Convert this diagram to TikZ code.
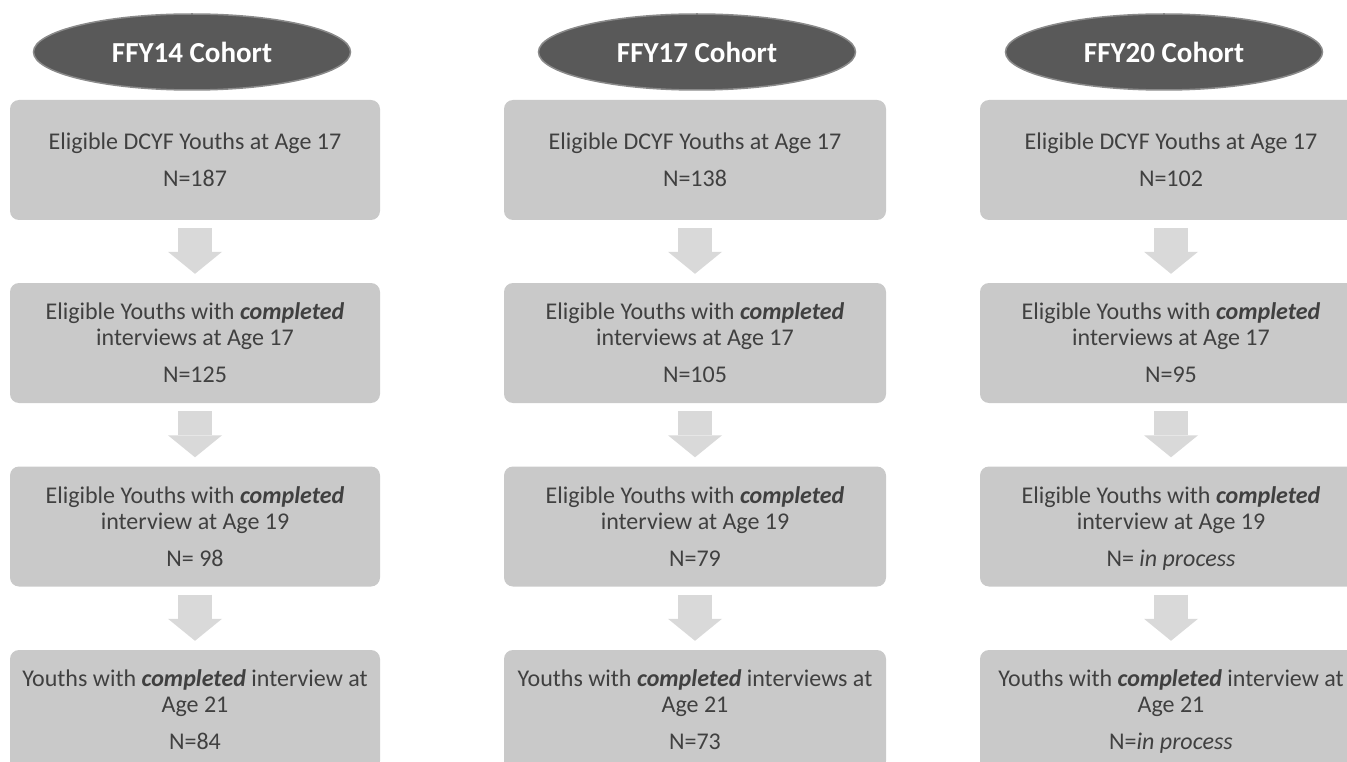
\documentclass[tikz,border=0pt]{standalone}
\usepackage{fontspec}
\setmainfont{Carlito}
\usetikzlibrary{shapes.geometric,arrows.meta}
\definecolor{headfill}{HTML}{595959}
\definecolor{headline}{HTML}{8A8A8A}
\definecolor{boxfill}{HTML}{C9C9C9}
\definecolor{boxtext}{HTML}{404040}
\definecolor{arrowfill}{HTML}{D9D9D9}
\newcommand{\bi}[1]{\textbf{\textit{#1}}}
\tikzstyle{head}=[ellipse,fill=headfill,draw=headline,line width=1.5pt,minimum width=317pt,minimum height=76pt,inner sep=0pt,text=white,font=\fontsize{29}{32}\selectfont\bfseries]
\tikzstyle{stage}=[rectangle,rounded corners=9pt,fill=boxfill,minimum width=382pt,minimum height=120pt,inner sep=0pt,align=center,text=boxtext,font=\fontsize{24}{26}\selectfont]
\tikzstyle{narrow}=[minimum width=370pt]
\tikzstyle{down}=[arrowfill,line width=34pt,-{Triangle[width=54pt,length=22pt,line width=0pt]}]

\begin{document}
\begin{tikzpicture}[x=1pt,y=-1pt]
	\useasboundingbox (0,0) rectangle (1347,762);
	\clip (0,0) rectangle (1347,762);
	% FFY14
	\node [style=head] (h1) at (192, 52) {FFY14 Cohort};
	\node [style=stage,narrow] (a1) at (195, 160) {Eligible DCYF Youths at Age 17\\[11pt] N=187};
	\node [style=stage,narrow] (a2) at (195, 343) {Eligible Youths with \bi{completed}\\ interviews at Age 17\\[11pt] N=125};
	\node [style=stage,narrow] (a3) at (195, 526.5) {Eligible Youths with \bi{completed}\\ interview at Age 19\\[11pt] N= 98};
	\node [style=stage,narrow] (a4) at (195, 710) {Youths with \bi{completed} interview at\\ Age 21\\[11pt] N=84};
	% FFY17
	\node [style=head] (h2) at (697, 52) {FFY17 Cohort};
	\node [style=stage] (b1) at (695, 160) {Eligible DCYF Youths at Age 17\\[11pt] N=138};
	\node [style=stage] (b2) at (695, 343) {Eligible Youths with \bi{completed}\\ interviews at Age 17\\[11pt] N=105};
	\node [style=stage] (b3) at (695, 526.5) {Eligible Youths with \bi{completed}\\ interview at Age 19\\[11pt] N=79};
	\node [style=stage] (b4) at (695, 710) {Youths with \bi{completed} interviews at\\ Age 21\\[11pt] N=73};
	% FFY20
	\node [style=head] (h3) at (1164, 52) {FFY20 Cohort};
	\node [style=stage] (c1) at (1171, 160) {Eligible DCYF Youths at Age 17\\[11pt] N=102};
	\node [style=stage] (c2) at (1171, 343) {Eligible Youths with \bi{completed}\\ interviews at Age 17\\[11pt] N=95};
	\node [style=stage] (c3) at (1171, 526.5) {Eligible Youths with \bi{completed}\\ interview at Age 19\\[11pt] N= \smash{\textit{in process}}};
	\node [style=stage] (c4) at (1171, 710) {Youths with \bi{completed} interview at\\ Age 21\\[11pt] N=\smash{\textit{in process}}};

	\draw [style=down] ([yshift=-8pt]a1.south) to ([yshift=9pt]a2.north);
	\draw [style=down] ([yshift=-8pt]a2.south) to ([yshift=9pt]a3.north);
	\draw [style=down] ([yshift=-8pt]a3.south) to ([yshift=9pt]a4.north);
	\draw [style=down] ([yshift=-8pt]b1.south) to ([yshift=9pt]b2.north);
	\draw [style=down] ([yshift=-8pt]b2.south) to ([yshift=9pt]b3.north);
	\draw [style=down] ([yshift=-8pt]b3.south) to ([yshift=9pt]b4.north);
	\draw [style=down] ([yshift=-8pt]c1.south) to ([yshift=9pt]c2.north);
	\draw [style=down] ([yshift=-8pt]c2.south) to ([yshift=9pt]c3.north);
	\draw [style=down] ([yshift=-8pt]c3.south) to ([yshift=9pt]c4.north);
\end{tikzpicture}
\end{document}
